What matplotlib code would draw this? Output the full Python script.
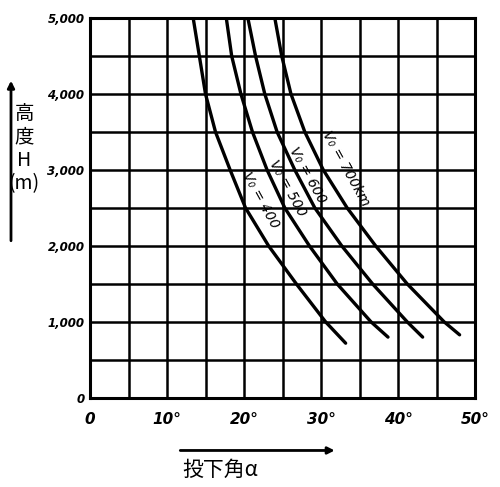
import numpy as np
import matplotlib.pyplot as plt

plt.rcParams['font.family'] = ['Noto Sans CJK JP', 'DejaVu Sans']

# 高度 H (m)
heights_1 = [5000, 4500, 4000, 3500, 3000, 2500, 2000, 1500, 1000, 720]
angles_1 = [13.4, 14.2, 15.0, 16.3, 18.2, 20.2, 23.2, 26.8, 30.6, 33.2]

heights_2 = [5000, 4500, 4000, 3500, 3000, 2500, 2000, 1500, 1000, 800]
angles_2 = [17.7, 18.4, 19.6, 21.1, 23.0, 25.3, 28.5, 32.1, 36.5, 38.7]

heights_3 = [5000, 4500, 4000, 3500, 3000, 2500, 2000, 1500, 1000, 800]
angles_3 = [20.5, 21.5, 22.7, 24.3, 26.6, 29.2, 32.7, 36.7, 41.2, 43.2]

heights_4 = [5000, 4500, 4000, 3500, 3000, 2500, 2000, 1500, 1000, 830]
angles_4 = [24.0, 24.9, 26.1, 27.9, 30.3, 33.4, 37.1, 41.2, 46.0, 48.0]

curve_labels = ["V₀ = 400", "V₀ = 500", "V₀ = 600", "V₀ = 700km"]

x_ticks = [0, 10, 20, 30, 40, 50]
x_ticklabels = ["0", "10°", "20°", "30°", "40°", "50°"]
y_ticks = [0, 1000, 2000, 3000, 4000, 5000]
y_ticklabels = ["0", "1,000", "2,000", "3,000", "4,000", "5,000"]

fig = plt.figure(figsize=(5, 4.87), dpi=100)
ax = fig.add_axes([0.18, 0.183, 0.77, 0.78])

ax.set_xlim(0, 50)
ax.set_ylim(0, 5000)
for gx in np.arange(0, 51, 5):
    ax.axvline(gx, color='black', lw=1.8, zorder=1)
for gy in np.arange(0, 5001, 500):
    ax.axhline(gy, color='black', lw=1.8, zorder=1)

for a, h in [(angles_1, heights_1), (angles_2, heights_2),
             (angles_3, heights_3), (angles_4, heights_4)]:
    ax.plot(a, h, color='black', lw=2.4, solid_capstyle='round',
            solid_joinstyle='round', zorder=3)

# curve labels, written along the curves
label_pos = [(22.1, 2600), (25.6, 2760), (28.3, 2930), (33.2, 3020)]
for (lx, ly), txt in zip(label_pos, curve_labels):
    ax.text(lx, ly, txt, rotation=-61, fontsize=10, ha='center', va='center',
            color='black', zorder=4, family=['DejaVu Sans'], style='italic')

for s in ax.spines.values():
    s.set_linewidth(2.2)
ax.tick_params(length=0, pad=10)
ax.set_xticks(x_ticks)
ax.set_xticklabels(x_ticklabels, fontsize=11, fontweight='bold',
                   style='italic', family=['DejaVu Sans'])
ax.set_yticks(y_ticks)
ax.set_yticklabels(y_ticklabels, fontsize=8.5, fontweight='bold',
                   style='italic', family=['DejaVu Sans'])
ax.tick_params(axis='y', pad=4)

# y axis title with arrow
fig.text(0.048, 0.695, "高\n度\nH\n(m)", fontsize=14, ha='center', va='center',
         linespacing=1.15)
ax.annotate("", xy=(0.022, 0.84), xytext=(0.022, 0.5),
            xycoords='figure fraction', textcoords='figure fraction',
            annotation_clip=False,
            arrowprops=dict(arrowstyle='-|>', lw=2, color='black'))

# x axis title with arrow
ax.annotate("", xy=(0.675, 0.075), xytext=(0.355, 0.075),
            xycoords='figure fraction', textcoords='figure fraction',
            annotation_clip=False,
            arrowprops=dict(arrowstyle='-|>', lw=2, color='black'))
fig.text(0.44, 0.035, "投下角α", fontsize=15, ha='center', va='center')

fig.savefig("out.png", dpi=100)
